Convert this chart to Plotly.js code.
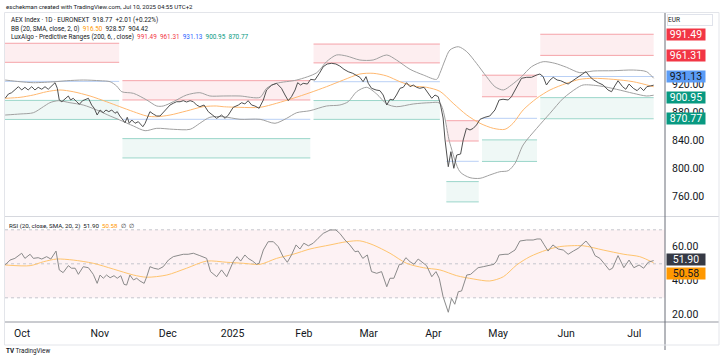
<!DOCTYPE html>
<html><head><meta charset="utf-8">
<script src="https://cdn.plot.ly/plotly-3.0.1.min.js"></script>
<style>html,body{margin:0;padding:0;background:#fff}#chart{width:720px;height:360px}</style>
</head><body><div id="chart"></div><script>
// ---- time axis (trading-day index, 0 = 1 Oct 2024) ----
const monthBars = [0, 24, 45, 65, 87, 107, 127, 147, 168, 189];
const monthLabels = ['Oct', 'Nov', 'Dec', '2025', 'Feb', 'Mar', 'Apr', 'May', 'Jun', 'Jul'];

// ---- AEX daily close ----
const closeT = [-5.2,-4.2,-3.2,-2.2,-1.1,-0.1,0.9,1.9,3.0,4.0,
  5.0,6.1,7.1,8.1,9.2,10.2,10.9,11.5,12.3,13.3,
  14.3,15.0,15.8,16.9,17.7,18.7,19.8,20.5,21.5,22.3,
  23.2,24.1,25.1,25.9,26.8,27.7,28.7,29.4,30.2,31.1,
  31.8,32.5,33.1,33.9,34.9,35.9,37.3,38.0,38.7,39.5,
  40.5,41.6,42.6,43.6,44.7,45.7,46.7,47.7,48.8,49.8,
  50.8,51.9,52.9,53.9,54.9,56.2,57.5,58.9,60.1,61.6,
  62.7,63.7,65.2,66.8,67.8,68.8,69.8,70.9,71.9,73.2,
  74.5,75.5,77.1,78.6,80.1,81.2,82.2,83.2,84.3,85.1,
  86.0,86.8,88.1,89.1,90.4,91.8,93.0,94.2,95.6,96.9,
  98.1,99.4,100.7,102.1,103.3,104.3,105.3,106.2,106.9,107.9,
  109.3,110.5,111.5,112.6,113.6,114.6,115.6,116.7,117.7,118.7,
  119.8,120.8,121.8,122.8,124.1,125.4,126.5,127.5,128.5,129.2,
  130.0,130.6,131.6,132.4,133.3,134.2,135.4,136.2,137.2,138.3,
  139.3,140.3,141.4,142.9,144.4,146.0,147.3,148.5,150.1,151.1,
  152.2,153.2,154.2,155.8,157.3,158.9,159.9,160.9,161.9,163.0,
  164.0,165.2,166.3,167.6,168.6,170.0,171.2,172.7,174.1,175.3,
  176.5,177.9,179.4,180.9,182.0,183.0,184.0,185.4,186.4,187.4,
  188.7,189.9,190.9,191.9,192.9,194.0,195.0];
const closeV = [900.0,906.1,908.0,911.9,916.6,911.9,915.7,911.9,916.6,911.9,
  915.7,912.9,916.6,912.9,917.6,922.3,914.3,897.6,895.1,898.6,
  903.3,897.6,900.0,895.1,891.4,896.6,898.6,900.0,890.4,885.7,
  876.1,883.3,879.4,883.3,880.9,883.3,878.6,880.9,874.7,869.0,
  865.1,872.9,864.3,869.0,864.3,866.6,859.4,864.3,872.9,880.9,
  877.6,874.7,874.7,879.4,885.7,890.4,892.9,895.1,895.1,896.6,
  894.7,896.6,895.1,890.4,888.0,890.4,880.9,876.1,871.4,876.1,
  871.4,876.1,887.1,890.4,893.7,891.9,896.6,890.4,889.0,885.7,
  897.6,911.9,919.0,921.4,914.3,904.7,896.6,902.3,911.9,922.3,
  919.0,921.4,920.4,927.1,926.1,935.7,945.1,949.0,950.0,949.0,
  946.1,941.4,938.0,935.7,931.9,930.0,923.7,930.9,921.4,914.3,
  911.9,910.9,904.7,890.4,898.6,897.6,904.7,914.3,915.7,922.3,
  916.6,919.0,915.7,914.3,915.7,907.1,900.0,904.7,902.3,890.4,
  871.9,840.4,802.3,823.7,800.0,819.0,820.4,840.4,857.1,854.7,
  857.1,861.9,870.0,872.9,874.7,883.3,897.6,898.6,897.6,902.3,
  911.9,919.0,928.6,930.0,930.0,933.3,934.7,930.9,919.0,926.1,
  930.0,926.1,925.1,922.3,920.4,925.1,928.6,933.3,938.0,930.9,
  926.1,922.3,919.0,911.9,909.4,917.6,925.1,916.6,912.9,920.4,
  914.3,910.9,915.7,910.9,916.6,917.6,918.77];

// ---- Bollinger Bands (20, SMA, close, 2) ----
const bbUpperT = [-5.2,-0.6,3.5,10.2,13.8,18.9,24.1,27.2,29.2,30.8,34.4,38.5,41.6,43.6,46.7,50.8,54.9,58.0,62.1,67.3,73.5,75.5,78.6,84.8,91.0,94.0,97.1,100.2,104.3,108.4,112.6,115.6,119.8,123.9,128.0,129.0,130.6,132.1,134.7,137.3,140.3,143.4,146.0,148.6,151.1,154.2,157.3,160.9,164.5,168.1,172.2,176.3,182.5,188.7,192.8,195.0];
const bbUpperV = [926.1,923.7,922.3,923.7,925.1,926.1,925.1,923.7,917.6,909.4,907.1,897.6,889.0,889.0,895.1,904.7,908.0,903.3,903.3,903.3,901.4,914.3,921.4,926.1,936.6,952.3,961.9,960.4,954.7,954.7,961.9,954.7,941.4,933.3,927.1,935.7,954.7,969.0,973.7,966.6,950.0,930.9,916.6,911.9,919.0,930.9,945.1,952.3,950.0,944.3,936.6,939.0,939.4,940.4,938.0,928.57];
const bbLowerT = [-5.2,-0.6,3.5,6.6,8.6,11.2,14.8,18.9,23.1,27.2,30.2,34.4,38.0,41.6,46.7,51.9,54.9,58.0,62.1,67.3,73.5,78.1,81.7,84.8,88.9,94.0,98.1,100.7,103.3,106.4,109.5,112.6,115.6,120.8,125.9,129.0,132.1,135.2,138.3,141.4,144.4,147.5,150.1,152.2,154.7,158.9,163.0,167.1,171.2,173.2,178.4,183.5,188.7,192.8,195.0];
const bbLowerV = [876.1,877.6,879.4,888.0,893.7,896.6,893.7,890.4,883.3,874.7,869.0,860.4,853.7,857.1,855.7,855.7,864.3,872.9,873.7,870.0,870.0,864.3,871.4,879.4,882.3,889.0,890.4,895.1,909.4,915.7,906.1,891.9,888.0,891.9,893.7,892.9,835.7,795.1,786.6,785.7,790.4,795.1,796.6,807.1,833.3,857.1,878.6,900.0,914.3,919.0,917.6,912.9,907.1,903.3,904.42];
const bbBasisT = [-5.2,-0.6,3.5,7.6,11.7,15.8,21.0,26.1,30.2,34.4,38.5,41.6,45.7,50.8,55.9,60.1,62.1,67.3,73.5,78.6,83.7,88.9,94.0,99.2,104.3,108.4,112.6,116.7,120.8,124.9,129.0,133.1,137.3,141.4,145.5,149.1,151.6,154.7,158.9,163.0,168.1,172.2,176.3,182.5,188.7,195.0];
const bbBasisV = [900.0,901.4,904.7,909.4,911.9,909.4,903.3,895.1,888.0,880.9,874.7,873.7,876.1,881.9,888.0,889.0,888.0,887.1,887.1,892.9,900.0,908.0,916.6,926.1,934.7,935.7,931.9,923.7,917.6,915.7,910.0,892.9,876.1,864.3,857.1,855.7,864.3,883.3,900.0,911.9,921.4,927.1,928.6,927.1,923.7,916.5];

// ---- LuxAlgo Predictive Ranges (200, 6) segments ----
const segStart = [-6, 31, 90, 131, 142, 160];
const segEnd   = [30, 89, 129, 141, 159, 195];
const levelR2  = [978.6, 925.2, 977.5, 868.0, 933.0, 991.49];
const levelR1  = [951.4, 897.6, 950.6, 839.0, 902.2, 961.31];
const levelAvg = [924.2, 870.0, 923.7, 810.0, 871.4, 931.13];
const levelS1  = [897.0, 842.4, 896.8, 781.0, 840.6, 900.95];
const levelS2  = [869.8, 814.8, 869.9, 752.0, 809.8, 870.77];

// ---- RSI (20) and its SMA (20) ----
const rsiT = [-5.2,-3.7,-2.2,-0.1,0.9,2.5,3.5,5.0,6.1,7.6,
  8.9,10.5,11.5,12.7,14.3,15.3,16.4,17.4,18.9,20.5,
  22.0,23.2,24.1,25.1,26.1,27.2,28.4,29.4,30.5,31.5,
  32.3,33.3,34.4,35.4,36.4,37.7,38.5,39.5,40.7,42.1,
  43.6,45.2,46.7,48.2,49.8,51.3,52.9,54.9,57.0,58.2,
  60.1,61.6,63.2,65.2,66.4,67.5,68.8,69.8,71.2,72.4,
  73.2,74.5,76.0,77.6,79.1,80.6,81.9,83.2,84.6,85.8,
  87.0,88.4,89.9,91.4,93.0,95.1,96.9,98.1,99.7,101.2,
  102.8,103.8,105.2,106.6,107.9,109.5,111.0,112.6,113.6,114.8,
  116.5,117.2,118.5,119.8,121.0,122.3,123.7,124.9,126.5,127.8,
  128.8,130.0,131.6,132.6,133.6,134.7,135.7,137.3,138.5,139.5,
  140.8,142.4,143.9,145.7,146.5,147.3,149.1,150.1,152.2,153.7,
  155.8,157.8,159.0,160.1,161.1,162.4,163.9,165.5,167.1,168.6,
  170.2,171.7,174.1,175.8,176.9,178.4,179.9,181.3,182.3,184.0,
  185.8,187.4,188.9,190.5,191.9,193.3,195.0];
const rsiV = [49.3,52.2,53.2,56.2,53.2,55.6,53.2,53.6,52.8,54.2,
  52.8,57.5,46.4,44.8,48.9,47.4,47.4,43.8,48.3,47.7,
  43.8,38.5,43.4,41.5,43.4,41.8,43.0,41.5,43.0,37.9,
  37.5,43.4,40.5,41.5,39.9,38.5,42.4,48.3,47.4,46.8,
  48.3,52.2,54.2,54.8,55.6,55.6,56.2,54.8,53.2,45.4,
  42.4,46.4,42.4,51.2,54.2,51.6,55.2,53.2,51.6,49.7,
  50.3,58.1,63.0,63.0,60.1,54.2,50.9,55.2,61.1,58.7,
  62.1,60.6,62.1,65.0,67.9,69.9,69.9,67.9,64.0,61.1,
  57.1,57.5,53.2,55.2,45.4,44.4,45.4,36.5,41.5,41.5,
  49.7,49.7,53.6,51.2,49.7,52.8,50.9,48.9,42.4,45.4,
  41.5,30.6,21.5,29.7,26.2,33.6,34.0,43.4,43.8,45.4,
  47.7,48.3,48.9,49.7,51.6,55.2,55.6,55.6,58.1,63.4,
  64.0,64.0,64.6,64.6,61.5,57.5,61.1,58.7,58.1,55.6,
  57.5,59.1,63.4,59.5,54.8,53.2,49.7,46.4,47.4,54.8,
  47.7,52.2,47.7,49.3,47.4,50.9,51.9];
const rsiMaT = [-5.2,2.5,6.6,10.7,15.8,22.0,28.2,34.4,38.5,44.7,50.8,57.0,63.2,68.3,73.5,78.6,83.7,88.9,95.1,100.2,104.3,108.4,113.6,118.7,123.9,129.0,134.2,139.3,144.4,148.6,152.7,156.8,161.9,166.0,173.2,179.4,185.8,190.7,195.0];
const rsiMaV = [49.3,48.9,51.2,52.8,52.2,50.3,46.9,43.4,42.1,43.4,47.4,51.6,50.9,50.3,49.7,53.2,55.6,58.7,61.1,63.0,63.5,61.1,56.2,50.3,47.7,46.4,43.0,41.1,39.9,42.4,49.3,54.2,58.1,60.1,60.6,58.1,55.6,54.2,50.58];
const rsiLevels = [70, 50, 30];

// ---- tick values ----
const priceTicks = [760, 800, 840, 880, 920];
const rsiTicks = [20, 40, 60];

// ---------------- build ----------------
const FONT = 'Roboto, "Noto Sans", Arial, sans-serif';
const RED_LINE = '#f5a3a9', RED_FILL = '#fdeef0';
const GRN_LINE = '#9bd6ca', GRN_FILL = '#eff8f6';
const BLUE_LINE = '#b9d0f5';
const traces = [];

function boxTrace(top, bot, fill) {
  const x = [], y = [];
  for (let k = 0; k < segStart.length; k++) {
    x.push(segStart[k], segEnd[k], segEnd[k], segStart[k], segStart[k], null);
    y.push(top[k], top[k], bot[k], bot[k], top[k], null);
  }
  return {type: 'scatter', mode: 'lines', x, y, fill: 'toself', fillcolor: fill,
    line: {width: 0, color: fill}, xaxis: 'x', yaxis: 'y', hoverinfo: 'skip'};
}
function levelTrace(level, color) {
  const x = [], y = [];
  for (let k = 0; k < segStart.length; k++) {
    x.push(segStart[k], segEnd[k], null);
    y.push(level[k], level[k], null);
  }
  return {type: 'scatter', mode: 'lines', x, y, connectgaps: false,
    line: {width: 1, color}, xaxis: 'x', yaxis: 'y', hoverinfo: 'skip'};
}
traces.push(boxTrace(levelR2, levelR1, RED_FILL));
traces.push(boxTrace(levelS1, levelS2, GRN_FILL));
traces.push(levelTrace(levelR2, RED_LINE));
traces.push(levelTrace(levelR1, RED_LINE));
traces.push(levelTrace(levelAvg, BLUE_LINE));
traces.push(levelTrace(levelS1, GRN_LINE));
traces.push(levelTrace(levelS2, GRN_LINE));

function line(x, y, color, yaxis, spline) {
  return {type: 'scatter', mode: 'lines', x, y, xaxis: 'x', yaxis,
    line: {width: 1, color, shape: spline ? 'spline' : 'linear', smoothing: 0.8}, hoverinfo: 'skip'};
}
traces.push(line(bbUpperT, bbUpperV, '#a0a0a0', 'y', true));
traces.push(line(bbLowerT, bbLowerV, '#a0a0a0', 'y', true));
traces.push(line(bbBasisT, bbBasisV, '#ffb870', 'y', true));
traces.push(line(closeT, closeV, '#505050', 'y', false));

traces.push(line(rsiMaT, rsiMaV, '#ffc46e', 'y2', true));
traces.push(line(rsiT, rsiV, '#8a8a8a', 'y2', false));

// pixel helpers for paper-positioned decorations
const L = 5, R = 55, T = 12, B = 38, W = 720, H = 360;
const pw = W - L - R, ph = H - T - B;
const px = v => (v - L) / pw;
const py = v => (H - B - v) / ph;

const shapes = [];
// RSI background band and dashed levels
shapes.push({type: 'rect', xref: 'paper', yref: 'y2', x0: 0, x1: 1, y0: rsiLevels[2], y1: rsiLevels[0],
  fillcolor: '#fdf2f4', line: {width: 0}, layer: 'below'});
rsiLevels.forEach(v => shapes.push({type: 'line', xref: 'paper', yref: 'y2', x0: 0, x1: 1, y0: v, y1: v,
  line: {color: '#c5c7cd', width: 1, dash: '3px,3px'}, layer: 'below'}));
// pane separator, time-axis line, price-axis line, outer frame
shapes.push({type: 'line', xref: 'paper', yref: 'paper', x0: px(5), x1: px(719), y0: py(216.5), y1: py(216.5), line: {color: '#d6d8de', width: 1}});
shapes.push({type: 'line', xref: 'paper', yref: 'paper', x0: px(5), x1: px(719), y0: py(322), y1: py(322), line: {color: '#9598a1', width: 1}});
shapes.push({type: 'line', xref: 'paper', yref: 'paper', x0: 1, x1: 1, y0: py(350), y1: py(12.5), line: {color: '#6b6e78', width: 1}});
shapes.push({type: 'rect', xref: 'paper', yref: 'paper', x0: px(4.5), x1: px(719), y0: py(345), y1: py(12.5), line: {color: '#e3e5ea', width: 1}});

const annotations = [];
function txt(text, x, y, size, color, extra) {
  annotations.push(Object.assign({xref: 'paper', yref: 'paper', x: px(x), y: py(y), text, showarrow: false,
    xanchor: 'left', yanchor: 'middle', font: {family: FONT, size, color}}, extra || {}));
}
const sp = '\u00a0';
txt('eschekman created with TradingView.com, Jul 10, 2025 04:55 UTC+2', 4, 6.5, 6.1, '#131722');
txt('AEX Index · 1D · EURONEXT' + sp + sp + '918.77' + sp + sp + '+2.01 (+0.22%)', 9, 20, 6.4, '#131722');
txt('BB (20, SMA, close, 2, 0)' + sp + sp + '<span style="color:#ff9800">916.50</span>' + sp + sp + '928.57' + sp + sp + '904.42', 9, 28.5, 6.4, '#131722');
const luxVals = [levelR2[5], levelR1[5], levelAvg[5], levelS1[5], levelS2[5]];
const luxCols = ['#f23645', '#f23645', '#2962ff', '#089981', '#089981'];
txt('LuxAlgo - Predictive Ranges (200, 6, , close)' + luxVals.map((v, i) => sp + sp + '<span style="color:' + luxCols[i] + '">' + v.toFixed(2) + '</span>').join(''), 9, 37, 6.4, '#131722');
txt('RSI (20, close, SMA, 20, 2)' + sp + sp + rsiV[rsiV.length - 1].toFixed(2) + sp + sp + '<span style="color:#ff9800">' + rsiMaV[rsiMaV.length - 1].toFixed(2) + '</span>' + sp + sp + '∅' + sp + sp + '∅', 7, 226, 6.2, '#131722');
txt('<b>TV</b> TradingView', 4, 351, 6.3, '#131722');
txt('EUR', 667, 20, 6.5, '#131722', {bgcolor: '#ffffff', bordercolor: '#e0e3eb', borderwidth: 1, width: 44, height: 10, align: 'left', borderpad: 0});

function priceBox(v, yref, bg, fg, yshift) {
  annotations.push({xref: 'paper', yref, x: 1, y: v, xanchor: 'left', yanchor: 'middle', xshift: 1, yshift: yshift || 0,
    text: v.toFixed(2), showarrow: false, bgcolor: bg, font: {family: FONT, size: 10.5, color: fg},
    width: 38, height: 11, borderpad: 0, align: 'center'});
}
priceBox(levelR2[5], 'y', '#f23645', '#ffffff');
priceBox(levelR1[5], 'y', '#f23645', '#ffffff');
priceBox(levelAvg[5], 'y', '#5b9cf6', '#131722');
priceBox(levelS1[5], 'y', '#089981', '#ffffff');
priceBox(levelS2[5], 'y', '#089981', '#ffffff');
priceBox(rsiV[rsiV.length - 1], 'y2', '#363a45', '#ffffff', 1.5);
priceBox(rsiMaV[rsiMaV.length - 1], 'y2', '#ff9800', '#131722', -10.5);

const layout = {
  width: W, height: H, margin: {l: L, r: R, t: T, b: B, pad: 0},
  paper_bgcolor: '#ffffff', plot_bgcolor: '#ffffff', showlegend: false, hovermode: false,
  xaxis: {range: [-5.25, 198.5], anchor: 'y2', tickmode: 'array', tickvals: monthBars, ticktext: monthLabels,
    showgrid: false, zeroline: false, showline: false, ticks: '', ticklabelstandoff: 3,
    tickfont: {family: FONT, size: 10.5, color: '#131722'}},
  yaxis: {domain: [py(215.5), 1], range: [840 - (215.5 - 140.3) / 0.7, 840 + (140.3 - 12) / 0.7], side: 'right',
    tickmode: 'array', tickvals: priceTicks, ticktext: priceTicks.map(v => v.toFixed(2)),
    showgrid: false, zeroline: false, showline: false, ticks: '', ticklabelstandoff: 6,
    tickfont: {family: FONT, size: 10.5, color: '#131722'}},
  yaxis2: {domain: [0, py(218)], range: [50 - (322 - 263.8) / 1.70, 50 + (263.8 - 218) / 1.70], side: 'right',
    tickmode: 'array', tickvals: rsiTicks, ticktext: rsiTicks.map(v => v.toFixed(2)),
    showgrid: false, zeroline: false, showline: false, ticks: '', ticklabelstandoff: 6,
    tickfont: {family: FONT, size: 10.5, color: '#131722'}},
  shapes, annotations
};
Plotly.newPlot('chart', traces, layout, {staticPlot: true, displayModeBar: false});
</script></body></html>
